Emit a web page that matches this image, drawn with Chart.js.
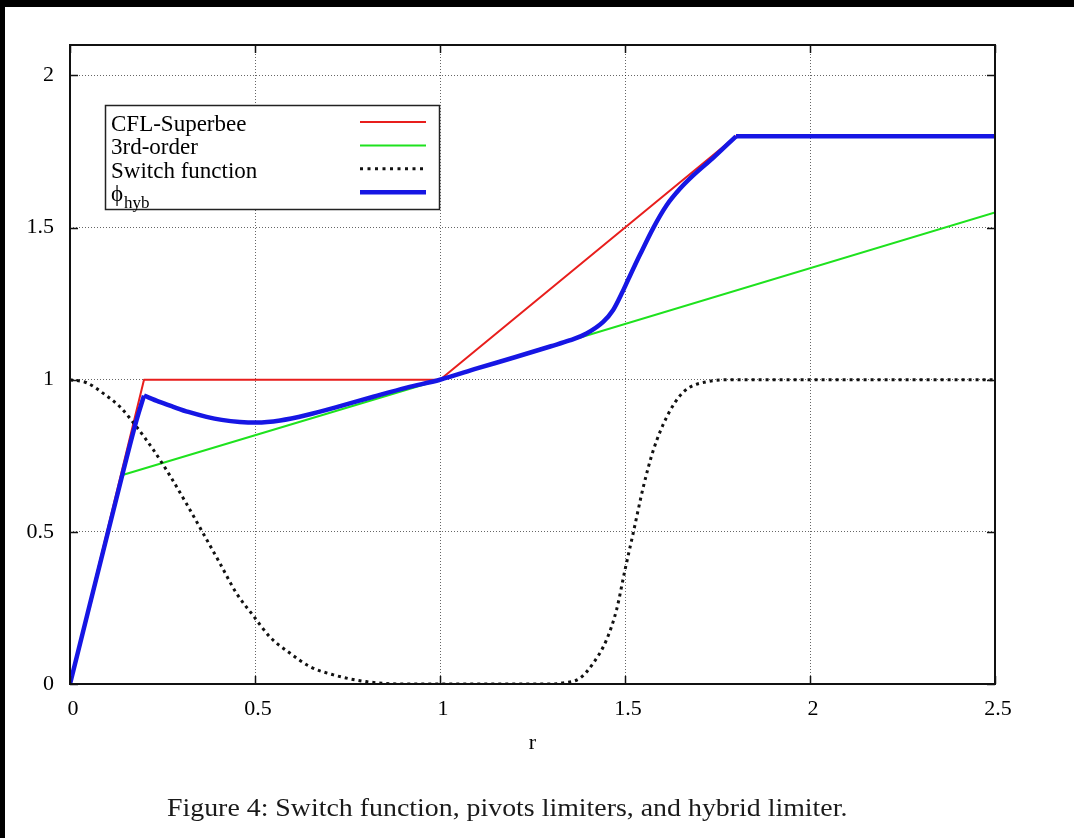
<!DOCTYPE html>
<html>
<head>
<meta charset="utf-8">
<script src="https://cdn.jsdelivr.net/npm/chart.js@4.4.0/dist/chart.umd.min.js"></script>
<style>
  html, body { margin: 0; padding: 0; background: #000; width: 1074px; height: 838px; overflow: hidden; }
  #sheet { position: absolute; left: 5px; top: 7px; right: 0; bottom: 0; background: #fff; }
  #plot { position: absolute; left: 0; top: 0; }
  #caption { position: absolute; left: 167px; top: 795px; font: 25px/25px "Liberation Serif", serif;
             color: #1a1a1a; white-space: nowrap; transform-origin: 0 0; }
</style>
</head>
<body>
<div id="sheet"></div>
<canvas id="plot" width="1074" height="838"></canvas>
<div id="caption">Figure 4: Switch function, pivots limiters, and hybrid limiter.</div>
<script>
// Axis ticks
const xTicks = [0, 0.5, 1, 1.5, 2, 2.5];
const xTickLabels = ['0', '0.5', '1', '1.5', '2', '2.5'];
const yTicks = [0, 0.5, 1, 1.5, 2];
const yTickLabels = ['0', '0.5', '1', '1.5', '2'];

// Series names (text after "_" is set as a subscript)
const seriesNames = ['CFL-Superbee', '3rd-order', 'Switch function', 'ϕ_hyb'];

// CFL-Superbee limiter
const superbeeR = [0, 0.2, 1, 1.8, 2.5];
const superbeeV = [0, 1, 1, 1.8, 1.8];

// 3rd-order limiter
const thirdR = [0.142, 1, 2.5];
const thirdV = [0.687, 1, 1.55];

// Switch function
const switchR = [0, 0.045, 0.09, 0.135, 0.18, 0.225, 0.27, 0.315, 0.36, 0.405, 0.45, 0.495, 0.54,
                 0.595, 0.649, 0.712, 0.8, 0.9, 1.3, 1.33, 1.378, 1.414, 1.45, 1.477, 1.5, 1.522,
                 1.55, 1.577, 1.613, 1.658, 1.72, 1.8, 2.5];
const switchV = [1, 0.99, 0.955, 0.911, 0.845, 0.77, 0.685, 0.592, 0.495, 0.397, 0.298, 0.225, 0.155,
                 0.101, 0.057, 0.03, 0.008, 0, 0, 0.003, 0.019, 0.068, 0.145, 0.243, 0.375, 0.495,
                 0.65, 0.77, 0.878, 0.96, 0.993, 1, 1];

// Hybrid limiter phi_hyb
const hybridR = [0, 0.144, 0.18, 0.2, 0.24, 0.279, 0.32, 0.369, 0.41, 0.459, 0.505, 0.568, 0.64,
                 0.73, 0.82, 0.91, 1.0, 1.1, 1.2, 1.3, 1.35, 1.396, 1.441, 1.468, 1.491, 1.509,
                 1.541, 1.577, 1.613, 1.649, 1.685, 1.739, 1.8, 2.5];
const hybridV = [0, 0.70, 0.868, 0.948, 0.928, 0.911, 0.894, 0.878, 0.868, 0.861, 0.859, 0.866, 0.884,
                 0.913, 0.944, 0.974, 1.0, 1.037, 1.073, 1.11, 1.129, 1.152, 1.19, 1.229, 1.283, 1.33,
                 1.412, 1.5, 1.574, 1.628, 1.672, 1.73, 1.8, 1.8];
// Corners of phi_hyb where the smooth curve breaks
const hybridKinks = [0.2, 1.8];

// Line styles
const seriesStyles = [
  { color: 'rgb(232,30,28)', width: 2, dash: [] },
  { color: 'rgb(30,226,30)', width: 2, dash: [] },
  { color: '#111', width: 3, dash: [3, 4] },
  { color: 'rgb(22,22,228)', width: 4.5, dash: [] }
];

const pts = (R, V) => R.map((r, i) => ({ x: r, y: V[i] }));

function splitAt(R, V, kinks) {
  const pieces = [];
  let start = 0;
  kinks.forEach(k => {
    const idx = R.indexOf(k);
    pieces.push([R.slice(start, idx + 1), V.slice(start, idx + 1)]);
    start = idx;
  });
  pieces.push([R.slice(start), V.slice(start)]);
  return pieces;
}

function lineDataset(label, data, style, order, smooth) {
  return {
    label, data, order,
    borderColor: style.color, borderWidth: style.width, borderDash: style.dash,
    borderCapStyle: 'butt', borderJoinStyle: 'round',
    pointRadius: 0, fill: false,
    tension: smooth ? 0.4 : 0,
    cubicInterpolationMode: smooth ? 'monotone' : 'default'
  };
}

const datasets = [
  lineDataset(seriesNames[0], pts(superbeeR, superbeeV), seriesStyles[0], 4, false),
  lineDataset(seriesNames[1], pts(thirdR, thirdV), seriesStyles[1], 3, false),
  lineDataset(seriesNames[2], pts(switchR, switchV), seriesStyles[2], 2, true)
];
splitAt(hybridR, hybridV, hybridKinks).forEach(([R, V]) => {
  datasets.push(lineDataset(seriesNames[3], pts(R, V), seriesStyles[3], 1, true));
});

const serif = '"Liberation Serif", "Times New Roman", serif';

// Frame, inward tick marks and boxed key
const framePlugin = {
  id: 'frame',
  afterDraw(chart) {
    const { ctx, chartArea: a, scales: { x, y } } = chart;
    ctx.save();
    ctx.strokeStyle = '#111';
    ctx.lineWidth = 1.5;
    ctx.setLineDash([]);
    ctx.beginPath();
    xTicks.forEach(v => {
      const px = Math.round(x.getPixelForValue(v)) + 0.5;
      ctx.moveTo(px, a.bottom); ctx.lineTo(px, a.bottom - 8);
      ctx.moveTo(px, a.top); ctx.lineTo(px, a.top + 8);
    });
    yTicks.forEach(v => {
      const py = Math.round(y.getPixelForValue(v)) + 0.5;
      ctx.moveTo(a.left, py); ctx.lineTo(a.left + 8, py);
      ctx.moveTo(a.right, py); ctx.lineTo(a.right - 8, py);
    });
    ctx.stroke();

    ctx.lineWidth = 2;
    ctx.strokeRect(a.left, a.top, a.right - a.left, a.bottom - a.top);

    // key box
    const bx = 105, by = 105, bw = 334, bh = 104;
    ctx.fillStyle = '#fff';
    ctx.fillRect(bx, by, bw, bh);
    ctx.lineWidth = 1.5;
    ctx.strokeStyle = '#222';
    ctx.strokeRect(bx + 0.5, by + 0.5, bw, bh);

    const rowGap = 23.4;
    seriesNames.forEach((name, i) => {
      const base = 131 + i * rowGap;
      const [main, sub] = name.split('_');
      ctx.fillStyle = '#000';
      ctx.textBaseline = 'alphabetic';
      ctx.textAlign = 'left';
      ctx.font = '23px ' + serif;
      ctx.fillText(main, 111, base);
      if (sub) {
        const w = ctx.measureText(main).width;
        ctx.font = '17px ' + serif;
        ctx.fillText(sub, 111 + w + 1, base + 7);
      }
      const st = seriesStyles[i];
      const ly = 122 + i * rowGap;
      ctx.strokeStyle = st.color;
      ctx.lineWidth = st.width;
      ctx.setLineDash(st.dash.length ? [3, 4.5] : []);
      ctx.beginPath();
      ctx.moveTo(360, ly);
      ctx.lineTo(426, ly);
      ctx.stroke();
    });
    ctx.restore();
  }
};

const gridColor = (lo, hi) => c =>
  (c.tick && c.tick.value > lo && c.tick.value < hi) ? 'rgba(0,0,0,0.6)' : 'rgba(0,0,0,0)';

new Chart(document.getElementById('plot'), {
  type: 'line',
  data: { datasets },
  options: {
    responsive: false,
    animation: false,
    events: [],
    layout: { padding: { top: 45, right: 79, left: 0, bottom: 0 } },
    plugins: { legend: { display: false }, tooltip: { enabled: false } },
    scales: {
      x: {
        type: 'linear', min: 0, max: 2.5,
        afterFit: s => { s.height = 154; },
        afterBuildTicks: s => { s.ticks = xTicks.map(v => ({ value: v })); },
        ticks: {
          padding: 12, labelOffset: 3, color: '#000', maxRotation: 0,
          font: { family: serif, size: 22 },
          callback: v => xTickLabels[xTicks.indexOf(v)] ?? ''
        },
        grid: { drawTicks: false, lineWidth: 1, color: gridColor(0, 2.5) },
        border: { display: false, dash: [1, 2] },
        title: { display: true, text: 'r', color: '#000', font: { family: serif, size: 22 },
                 padding: { top: 0, bottom: 82 } }
      },
      y: {
        type: 'linear', min: 0, max: 2.1,
        afterFit: s => { s.width = 70; },
        afterBuildTicks: s => { s.ticks = yTicks.map(v => ({ value: v })); },
        ticks: {
          padding: 16, color: '#000',
          font: { family: serif, size: 22 },
          callback: v => yTickLabels[yTicks.indexOf(v)] ?? ''
        },
        grid: { drawTicks: false, lineWidth: 1, color: gridColor(0, 2.1) },
        border: { display: false, dash: [1, 2] }
      }
    }
  },
  plugins: [framePlugin]
});

// fit the caption to its line width
const cap = document.getElementById('caption');
cap.style.transform = 'scaleX(' + (680 / cap.offsetWidth) + ')';
</script>
</body>
</html>
